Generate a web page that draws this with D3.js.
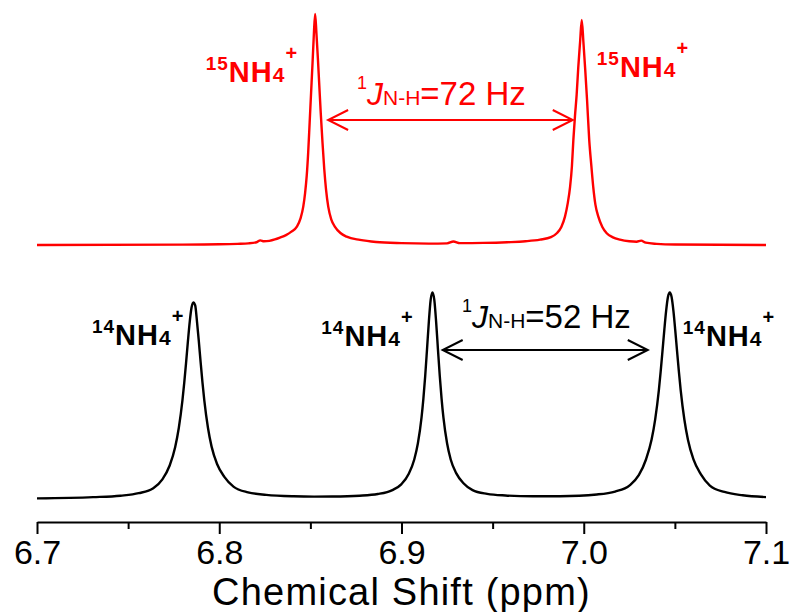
<!DOCTYPE html>
<html>
<head>
<meta charset="utf-8">
<title>NH4+ 1H NMR</title>
<script src="https://cdn.jsdelivr.net/npm/d3@7/dist/d3.min.js"></script>
<style>
    body { margin: 0; background: #fff; }
    svg { display: block; font-family: Arial, "Liberation Sans", sans-serif; }
    .spec { fill: none; stroke-width: 2.4px; stroke-linejoin: round; }
    .axis path, .axis line { stroke: #000; stroke-width: 2px; }
    .axis text { font-size: 34px; fill: #000; }
</style>
</head>
<body>
<svg width="790" height="612"></svg>
<script>
    // 15NH4+ spectrum (red): ppm and intensity (% of tallest peak)
    const redPpm = [6.700, 6.780, 6.800, 6.810, 6.816, 6.8205, 6.8225, 6.8245, 6.8275, 6.8305, 6.8333, 6.8366, 6.8396, 6.8426,
        6.8446, 6.8461, 6.8471, 6.8480, 6.8488, 6.8496, 6.8504, 6.8512, 6.8519, 6.8526, 6.8533, 6.8541, 6.8549, 6.8557, 6.8566,
        6.8576, 6.8586, 6.8598, 6.8615, 6.8635, 6.8665, 6.8699, 6.8772, 6.886, 6.900, 6.915, 6.925, 6.9285, 6.932, 6.945, 6.958,
        6.968, 6.976, 6.982, 6.9852, 6.9877, 6.9897, 6.9912, 6.9925, 6.9935, 6.9943, 6.9952, 6.9961, 6.9970, 6.9980, 6.9989,
        6.9998, 7.0008, 7.0018, 7.0030, 7.0042, 7.0052, 7.0064, 7.0080, 7.0102, 7.0126, 7.0160, 7.0199, 7.025, 7.029, 7.0315,
        7.034, 7.040, 7.050, 7.100];
    const redInt = [0, 0.15, 0.3, 0.5, 0.7, 1.2, 2.0, 1.6, 1.8, 2.4, 3.2, 4.3, 5.8, 8.0,
        11.5, 16.6, 22.5, 30, 40, 53, 66, 79, 91, 100, 92, 81, 69, 57, 45,
        33, 24, 16.6, 11, 7.9, 5.2, 3.6, 2.2, 1.3, 0.8, 0.6, 0.7, 1.5, 0.8, 0.9, 1.2,
        1.6, 2.3, 3.4, 5.1, 7.8, 12.3, 18, 25.2, 34, 45.5, 56, 65, 77, 88, 97.4,
        88, 76, 63, 45.5, 34, 25.2, 17.5, 12.3, 7.8, 5.1, 3.3, 2.3, 1.6, 1.4, 1.9,
        1.0, 0.5, 0.2, 0];

    // 14NH4+ spectrum (black): ppm and intensity (% of tallest peak)
    const blackPpm = [6.700, 6.7308, 6.7458, 6.7558, 6.7638, 6.7688, 6.7728, 6.7758, 6.7778, 6.7798, 6.7808, 6.7818, 6.7828,
        6.7838, 6.7848, 6.7858, 6.7868, 6.7878, 6.7888, 6.7898, 6.7908, 6.7918, 6.7938, 6.7958, 6.7988, 6.8028, 6.8078, 6.8158,
        6.8258, 6.8408, 6.852, 6.862, 6.877, 6.887, 6.895, 6.900, 6.904, 6.907, 6.909, 6.911, 6.912, 6.913, 6.914, 6.915, 6.916,
        6.917, 6.918, 6.919, 6.920, 6.921, 6.922, 6.923, 6.925, 6.927, 6.930, 6.934, 6.939, 6.947, 6.957, 6.972, 6.987, 7.0072,
        7.0172, 7.0252, 7.0302, 7.0342, 7.0372, 7.0392, 7.0412, 7.0422, 7.0432, 7.0442, 7.0452, 7.0462, 7.0472, 7.0482, 7.0492,
        7.0502, 7.0512, 7.0522, 7.0532, 7.0552, 7.0572, 7.0602, 7.0642, 7.0692, 7.0772, 7.0872, 7.100];
    const blackInt = [0.3, 0.9, 1.6, 2.8, 5.2, 9.5, 16.2, 25, 34.3, 47.6, 56.2, 65.9, 76.1,
        85.6, 92.5, 95, 93.5, 85.6, 76.1, 65.9, 56.2, 47.6, 34.4, 25.3, 16.9, 10.7, 6.0, 3.2,
        2.0, 1.3, 1.15, 1.2, 1.6, 2.4, 4.3, 7.2, 12.2, 19.1, 26.9, 39.4, 48.4, 59.4, 72.3, 85.6, 96.2,
        99.8, 96.2, 85.6, 72.3, 59.4, 48.4, 39.4, 26.9, 19.1, 12.5, 7.6, 4.3, 2.5, 1.7, 1.3, 1.35, 2.2,
        3.6, 6.6, 11.5, 19.2, 28.6, 38.5, 52.5, 61.5, 71.4, 81.6, 90.9, 97.6, 99.8, 97.6, 90.9,
        81.6, 71.4, 61.5, 52.5, 38.4, 28.5, 19.1, 12.0, 6.5, 3.4, 1.8, 0.9];

    const redPeaks = [6.8526, 6.9989];
    const blackPeaks = [6.7858, 6.9171, 7.0472];
    const majorTicks = [6.7, 6.8, 6.9, 7.0, 7.1];
    const minorTicks = [6.75, 6.85, 6.95, 7.05];
    const xTitle = "Chemical Shift (ppm)";

    const svg = d3.select("svg");
    const x = d3.scaleLinear().domain([6.7, 7.1]).range([37, 766]);
    const yRed = d3.scaleLinear().domain([0, 100]).range([245, 14]);
    const yBlack = d3.scaleLinear().domain([0, 100]).range([499, 292]);

    const red = redPpm.map((p, i) => [p, redInt[i]]);
    const black = blackPpm.map((p, i) => [p, blackInt[i]]);

    svg.append("path").datum(red).attr("class", "spec").attr("stroke", "#ff0000")
        .attr("d", d3.line().curve(d3.curveMonotoneX).x(d => x(d[0])).y(d => yRed(d[1])));
    svg.append("path").datum(black).attr("class", "spec").attr("stroke", "#000")
        .attr("d", d3.line().curve(d3.curveMonotoneX).x(d => x(d[0])).y(d => yBlack(d[1])));

    // x axis, major + minor ticks
    const axisY = 522;
    const gx = svg.append("g").attr("class", "axis").attr("transform", `translate(0,${axisY})`)
        .call(d3.axisBottom(x).tickValues(majorTicks).tickFormat(d3.format(".1f")).tickSize(12).tickSizeOuter(0));
    gx.selectAll("text").attr("y", 42).attr("dy", 0);
    svg.append("g").attr("class", "axis").attr("transform", `translate(0,${axisY})`)
        .call(d3.axisBottom(x).tickValues(minorTicks).tickFormat("").tickSize(7))
        .select(".domain").remove();

    svg.append("text").attr("x", (x(6.7) + x(7.1)) / 2).attr("y", 605)
        .attr("text-anchor", "middle").attr("font-size", 38).attr("letter-spacing", 1.2).text(xTitle);

    // NH4+ labels
    function nh4(px, py, anchor, color, mass) {
        const t = svg.append("text").attr("x", px).attr("y", py).attr("text-anchor", anchor)
            .attr("fill", color).attr("font-weight", "bold").attr("letter-spacing", 1);
        t.append("tspan").attr("font-size", 19).attr("dy", -12).text(mass);
        t.append("tspan").attr("font-size", 29).attr("dy", 12).text("NH");
        t.append("tspan").attr("font-size", 21).text("4");
        t.append("tspan").attr("font-size", 20).attr("dy", -22).text("+");
    }
    nh4(x(redPeaks[0]) - 17, 82, "end", "#ff0000", "15");
    nh4(x(redPeaks[1]) + 15, 77, "start", "#ff0000", "15");
    nh4(x(blackPeaks[0]) - 9, 345, "end", "#000", "14");
    nh4(x(blackPeaks[1]) - 19, 346, "end", "#000", "14");
    nh4(x(blackPeaks[2]) + 13, 346, "start", "#000", "14");

    // coupling constants
    function coupling(px, py, color, hz) {
        const t = svg.append("text").attr("x", px).attr("y", py).attr("fill", color);
        t.append("tspan").attr("font-size", 18).attr("dy", -16).text("1");
        t.append("tspan").attr("font-size", 32).attr("font-style", "italic").attr("dy", 16).text("J");
        t.append("tspan").attr("font-size", 21).text("N-H");
        t.append("tspan").attr("font-size", 33).text("=" + hz + " Hz");
    }
    function arrow(x1, x2, py, color) {
        const g = svg.append("g").attr("stroke", color).attr("stroke-width", 2).attr("fill", "none");
        g.append("line").attr("x1", x1).attr("x2", x2).attr("y1", py).attr("y2", py);
        g.append("path").attr("d", `M${x1 + 20},${py - 10}L${x1},${py}L${x1 + 20},${py + 10}`);
        g.append("path").attr("d", `M${x2 - 20},${py - 10}L${x2},${py}L${x2 - 20},${py + 10}`);
    }
    arrow(x(redPeaks[0]) + 13, x(redPeaks[1]) - 9, 120, "#ff0000");
    coupling(357, 105, "#ff0000", 72);
    arrow(x(blackPeaks[1]) + 10, x(blackPeaks[2]) - 22, 350, "#000");
    coupling(462, 328, "#000", 52);
</script>
</body>
</html>
